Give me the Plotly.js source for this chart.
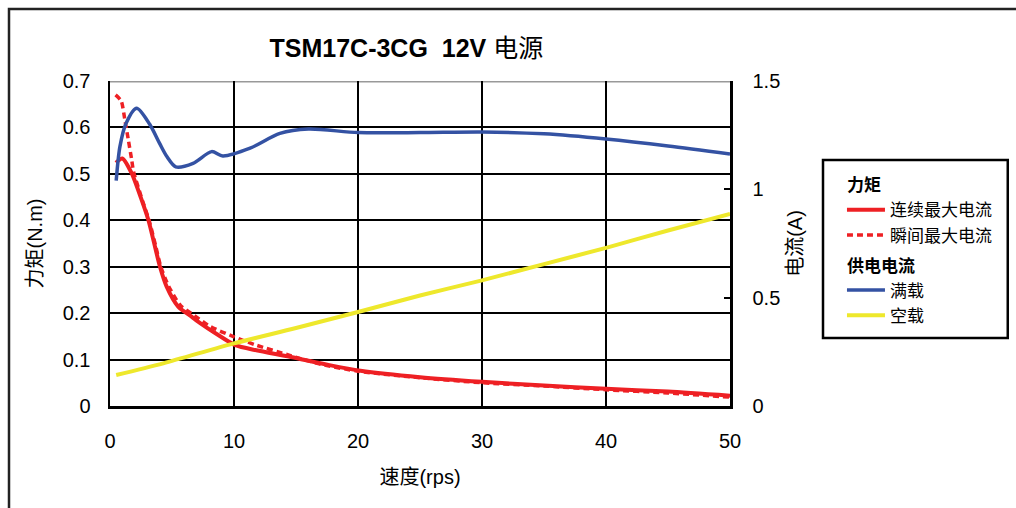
<!DOCTYPE html>
<html>
<head>
<meta charset="utf-8">
<script src="https://cdn.plot.ly/plotly-3.0.1.min.js"></script>
<style>html,body{margin:0;padding:0;background:#fff;}#chart{width:1016px;height:508px;}</style>
</head>
<body>
<div id="chart"></div>
<script>
// ---- data ----
const titleText = "<b>TSM17C-3CG  12V</b> 电源";
const xTitle = "速度(rps)";
const yTitle = "力矩(N.m)";
const y2Title = "电流(A)";
const groupTorque = "力矩";
const groupCurrent = "供电电流";
const names = ["连续最大电流", "瞬间最大电流", "满载", "空载"];

// 连续最大电流 torque (N.m)
const contSpeed = [0.48, 1.0, 1.75, 2.55, 3.1, 3.63, 4.03, 4.57, 5.5, 6.6, 7.3, 8.6, 10.1, 11.8, 14.5, 17.7, 20.2, 25, 30, 35, 40, 45, 50];
const contTorque = [0.524, 0.533, 0.501, 0.444, 0.40, 0.343, 0.30, 0.257, 0.214, 0.192, 0.178, 0.155, 0.131, 0.12, 0.106, 0.088, 0.076, 0.062, 0.052, 0.044, 0.037, 0.031, 0.022];

// 瞬间最大电流 torque (N.m)
const peakSpeed = [0.45, 0.9, 1.2, 1.48, 1.75, 1.9, 2.6, 3.15, 3.7, 4.1, 4.75, 5.7, 6.8, 8.1, 10, 11.8, 14.5, 17, 20, 25, 30, 35, 40, 45, 50];
const peakTorque = [0.67, 0.657, 0.616, 0.573, 0.53, 0.505, 0.444, 0.40, 0.343, 0.30, 0.257, 0.216, 0.195, 0.171, 0.149, 0.131, 0.109, 0.09, 0.075, 0.061, 0.05, 0.043, 0.035, 0.028, 0.019];

// 满载 supply current (A)
const fullSpeed = [0.5, 0.8, 1.3, 2.15, 3.2, 4.0, 4.6, 5.3, 6.7, 8.2, 9.1, 11.3, 13.7, 16, 20, 25, 30, 35, 40, 45, 50];
const fullCurrent = [1.04, 1.197, 1.305, 1.374, 1.30, 1.212, 1.15, 1.104, 1.12, 1.174, 1.154, 1.19, 1.258, 1.278, 1.262, 1.262, 1.265, 1.256, 1.232, 1.20, 1.163];

// 空载 supply current (A)
const idleSpeed = [0.5, 4.3, 10, 15, 20, 25, 30, 35, 40, 45, 50];
const idleCurrent = [0.143, 0.197, 0.289, 0.36, 0.434, 0.51, 0.58, 0.655, 0.73, 0.81, 0.886];

const xTicks = [0, 10, 20, 30, 40, 50];
const yTicks = [0, 0.1, 0.2, 0.3, 0.4, 0.5, 0.6, 0.7];
const yTickText = ["0", "0.1", "0.2", "0.3", "0.4", "0.5", "0.6", "0.7"];
const y2Ticks = [0, 0.5, 1, 1.5];
const y2TickText = ["0", "0.5", "1", "1.5"];

// ---- styling ----
const FONT = "Liberation Sans, Arial, Noto Sans CJK SC, sans-serif";
const RED = "#EE2024";
const BLUE = "#3452A3";
const YELLOW = "#EEE82C";
const groupFont = {size: 17, family: FONT, color: "#000", weight: "bold"};

const traces = [
  {x: contSpeed, y: contTorque, name: names[0], type: "scatter", mode: "lines",
   line: {color: RED, width: 4, shape: "spline", smoothing: 0.7},
   legendgroup: "g1", legendgrouptitle: {text: groupTorque, font: groupFont}},
  {x: peakSpeed, y: peakTorque, name: names[1], type: "scatter", mode: "lines",
   line: {color: RED, width: 3.5, dash: "6px,4px", shape: "spline", smoothing: 0.7},
   legendgroup: "g1"},
  {x: fullSpeed, y: fullCurrent, name: names[2], type: "scatter", mode: "lines", yaxis: "y2",
   line: {color: BLUE, width: 3.5, shape: "spline", smoothing: 0.8},
   legendgroup: "g2", legendgrouptitle: {text: groupCurrent, font: groupFont}},
  {x: idleSpeed, y: idleCurrent, name: names[3], type: "scatter", mode: "lines", yaxis: "y2",
   line: {color: YELLOW, width: 4, shape: "spline", smoothing: 0.8},
   legendgroup: "g2"}
];

const layout = {
  width: 1016, height: 508,
  paper_bgcolor: "#fff", plot_bgcolor: "#fff",
  margin: {l: 110, r: 286, t: 81, b: 102},
  font: {family: FONT, size: 20, color: "#000"},
  showlegend: true,
  title: {text: titleText, font: {family: FONT, size: 25, color: "#000"},
          xref: "paper", x: 0.478, xanchor: "center", yref: "container", y: 0.905, yanchor: "middle"},
  xaxis: {range: [0, 50], tickvals: xTicks, ticktext: xTicks.map(String),
          showgrid: true, gridcolor: "#000", gridwidth: 2, zeroline: false,
          showline: true, linecolor: "#000", linewidth: 2.5,
          ticks: "outside", ticklen: 15, tickcolor: "rgba(0,0,0,0)",
          tickfont: {size: 20},
          title: {text: xTitle, font: {size: 20}, standoff: 20}},
  yaxis: {range: [0, 0.7], tickvals: yTicks, ticktext: yTickText,
          showgrid: true, gridcolor: "#000", gridwidth: 2, zeroline: false,
          showline: true, linecolor: "#000", linewidth: 2.5,
          ticks: "outside", ticklen: 13, tickcolor: "rgba(0,0,0,0)",
          tickfont: {size: 20},
          title: {text: yTitle, font: {size: 20}, standoff: 15}},
  yaxis2: {range: [0, 1.5], tickvals: y2Ticks, ticktext: y2TickText,
           overlaying: "y", side: "right", showgrid: false, zeroline: false,
           showline: true, linecolor: "#000", linewidth: 2.5,
           ticks: "inside", ticklen: 6, tickwidth: 2, tickcolor: "#000",
           ticklabelstandoff: 16,
           tickfont: {size: 20},
           title: {text: y2Title, font: {size: 20}, standoff: 9}},
  legend: {x: 1.1806, xanchor: "left", y: 0.735, yanchor: "top",
           bgcolor: "rgba(0,0,0,0)", borderwidth: 0,
           font: {family: FONT, size: 17, color: "#000"},
           tracegroupgap: 5, itemwidth: 38, traceorder: "grouped"},
  shapes: [
    {type: "line", xref: "paper", yref: "y", x0: 0, x1: 1, y0: 0.7, y1: 0.7,
     line: {color: "#999", width: 3}, layer: "between"},
    {type: "rect", xref: "paper", yref: "paper", x0: -0.1629, x1: 1.48, y0: -0.34, y1: 1.2215,
     line: {color: "#222", width: 2.5}, fillcolor: "rgba(0,0,0,0)", layer: "below"},
    {type: "rect", xref: "paper", yref: "paper", x0: 1.15, x1: 1.448, y0: 0.209, y1: 0.757,
     line: {color: "#000", width: 2.5}, fillcolor: "#fff", layer: "below"}
  ]
};

Plotly.newPlot("chart", traces, layout, {staticPlot: true, displayModeBar: false});
</script>
</body>
</html>
